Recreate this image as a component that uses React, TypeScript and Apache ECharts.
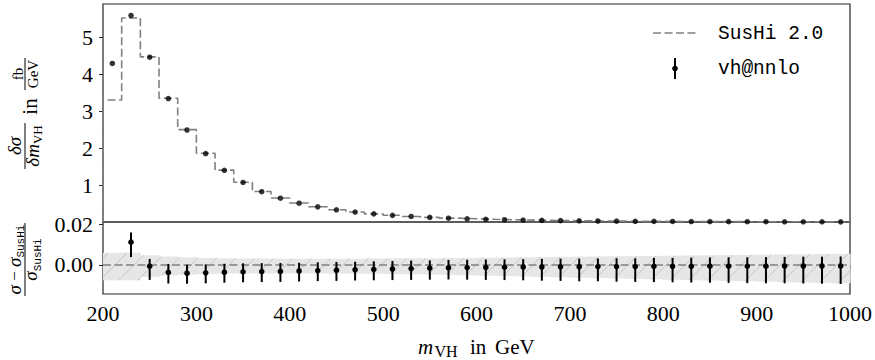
import React, { useEffect, useRef } from "react";
import * as echarts from "echarts";

// ---------- data ----------
const binEdges = [200, 220, 240, 260, 280, 300, 320, 340, 360, 380, 400, 420, 440, 460, 480, 500, 520, 540, 560, 580, 600, 620, 640, 660, 680, 700, 720, 740, 760, 780, 800, 820, 840, 860, 880, 900, 920, 940, 960, 980, 1000];
const binCenters = [210, 230, 250, 270, 290, 310, 330, 350, 370, 390, 410, 430, 450, 470, 490, 510, 530, 550, 570, 590, 610, 630, 650, 670, 690, 710, 730, 750, 770, 790, 810, 830, 850, 870, 890, 910, 930, 950, 970, 990];
const sushiValues = [3.30, 5.52, 4.47, 3.35, 2.50, 1.86, 1.405, 1.075, 0.825, 0.648, 0.513, 0.412, 0.332, 0.271, 0.221, 0.181, 0.150, 0.125, 0.104, 0.087, 0.073, 0.061, 0.052, 0.044, 0.037, 0.032, 0.027, 0.023, 0.020, 0.017, 0.015, 0.013, 0.011, 0.0095, 0.0082, 0.0071, 0.0062, 0.0054, 0.0047, 0.0041];
const vhValues = [4.29, 5.59, 4.46, 3.34, 2.49, 1.85, 1.40, 1.07, 0.82, 0.645, 0.51, 0.41, 0.33, 0.27, 0.22, 0.18, 0.15, 0.125, 0.104, 0.087, 0.073, 0.061, 0.052, 0.044, 0.037, 0.032, 0.027, 0.023, 0.020, 0.017, 0.015, 0.013, 0.011, 0.0095, 0.0082, 0.0071, 0.0062, 0.0054, 0.0047, 0.0041];

const ratioX = [230, 250, 270, 290, 310, 330, 350, 370, 390, 410, 430, 450, 470, 490, 510, 530, 550, 570, 590, 610, 630, 650, 670, 690, 710, 730, 750, 770, 790, 810, 830, 850, 870, 890, 910, 930, 950, 970, 990];
const ratioValues = [0.0113, -0.0006, -0.0037, -0.0041, -0.0039, -0.0036, -0.0034, -0.0033, -0.0032, -0.0030, -0.0028, -0.0026, -0.0024, -0.0022, -0.0020, -0.0018, -0.0016, -0.0014, -0.0013, -0.0012, -0.0011, -0.0010, -0.0010, -0.0009, -0.0009, -0.0008, -0.0008, -0.0008, -0.0007, -0.0007, -0.0007, -0.0006, -0.0006, -0.0006, -0.0006, -0.0005, -0.0005, -0.0005, -0.0005];
const ratioErrUp = [0.0048, 0.0036, 0.0042, 0.0042, 0.0042, 0.0042, 0.0042, 0.0042, 0.0042, 0.0041, 0.0041, 0.0041, 0.0040, 0.0040, 0.0040, 0.0040, 0.0039, 0.0039, 0.0039, 0.0039, 0.0039, 0.0039, 0.0040, 0.0040, 0.0040, 0.0040, 0.0041, 0.0041, 0.0042, 0.0042, 0.0043, 0.0043, 0.0044, 0.0044, 0.0045, 0.0045, 0.0046, 0.0046, 0.0047];
const ratioErrDown = [0.0074, 0.0068, 0.0055, 0.0052, 0.0052, 0.0052, 0.0052, 0.0052, 0.0052, 0.0052, 0.0052, 0.0053, 0.0053, 0.0054, 0.0055, 0.0056, 0.0057, 0.0058, 0.0060, 0.0062, 0.0064, 0.0066, 0.0068, 0.0070, 0.0072, 0.0073, 0.0075, 0.0076, 0.0078, 0.0079, 0.0080, 0.0082, 0.0083, 0.0084, 0.0085, 0.0086, 0.0087, 0.0088, 0.0089];

const bandUp = [0.0060, 0.0060, 0.0048, 0.0042, 0.0038, 0.0035, 0.0033, 0.0032, 0.0032, 0.0031, 0.0031, 0.0031, 0.0031, 0.0031, 0.0032, 0.0032, 0.0033, 0.0033, 0.0034, 0.0035, 0.0036, 0.0037, 0.0038, 0.0039, 0.0040, 0.0041, 0.0042, 0.0043, 0.0044, 0.0045, 0.0046, 0.0047, 0.0048, 0.0049, 0.0050, 0.0051, 0.0052, 0.0053, 0.0054, 0.0055];
const bandDown = [0.0076, 0.0076, 0.0060, 0.0052, 0.0048, 0.0045, 0.0043, 0.0042, 0.0042, 0.0042, 0.0042, 0.0042, 0.0043, 0.0043, 0.0044, 0.0045, 0.0046, 0.0047, 0.0049, 0.0051, 0.0053, 0.0055, 0.0057, 0.0059, 0.0061, 0.0063, 0.0065, 0.0067, 0.0069, 0.0071, 0.0073, 0.0075, 0.0077, 0.0079, 0.0081, 0.0083, 0.0085, 0.0087, 0.0089, 0.0091];

const xTicks = [200, 300, 400, 500, 600, 700, 800, 900, 1000];
const topYTicks = [1, 2, 3, 4, 5];
const bottomYTicks = [0, 0.02];

const legendNames = ["SusHi 2.0", "vh@nnlo"];

// ---------- styles ----------
const SERIF_NAME = "Liberation Serif";
const MONO_NAME = "Liberation Mono";
const GRAY = "#808080";
const FRAME = "#262626";
const DASH = [8, 3.5];

type Piece = { t: string; style?: string; size: number; mono?: boolean; base: number };

let measureCtx: CanvasRenderingContext2D | null = null;
function fontOf(p: Piece) {
  return `${p.style || "normal"} ${p.size}px ${p.mono ? MONO_NAME : SERIF_NAME}`;
}
function tw(p: Piece) {
  if (!measureCtx) measureCtx = document.createElement("canvas").getContext("2d");
  if (!measureCtx) return p.t.length * p.size * 0.5;
  measureCtx.font = fontOf(p);
  return measureCtx.measureText(p.t).width;
}
function textEl(p: Piece, x: number) {
  const k = p.mono ? 0.2665 : 0.3375;
  return {
    type: "text",
    x,
    y: p.base - k * p.size,
    silent: true,
    style: {
      text: p.t,
      fontSize: p.size,
      fontFamily: p.mono ? MONO_NAME : SERIF_NAME,
      fontStyle: p.style || "normal",
      fill: "#000",
      align: "left",
      verticalAlign: "middle",
      textAlign: "left",
      textVerticalAlign: "middle",
    },
  };
}
function rowCentered(pieces: Piece[], cx: number) {
  const ws = pieces.map(tw);
  const total = ws.reduce((a, b) => a + b, 0);
  let x = cx - total / 2;
  const out: any[] = [];
  pieces.forEach((p, i) => {
    out.push(textEl(p, x));
    x += ws[i];
  });
  return out;
}
function barEl(x1: number, x2: number) {
  return { type: "line", silent: true, shape: { x1, y1: 0, x2, y2: 0 }, style: { stroke: "#000", lineWidth: 1 } };
}

export default function App() {
  const ref = useRef<HTMLDivElement>(null);

  useEffect(() => {
    if (!ref.current) return;
    const chart = echarts.init(ref.current, undefined, { renderer: "svg" });

    // step outline of SusHi histogram
    const stepData: number[][] = [[binEdges[0], 0]];
    sushiValues.forEach((v, i) => {
      stepData.push([binEdges[i], v]);
      stepData.push([binEdges[i + 1], v]);
    });

    const scatterData = binCenters.map((x, i) => [x, vhValues[i]]);
    const bandData = bandUp.map((u, i) => [binEdges[i], binEdges[i + 1], u, bandDown[i]]);
    const errData = ratioX.map((x, i) => [x, ratioValues[i], ratioErrUp[i], ratioErrDown[i]]);

    const labelStyle = { fontSize: 22, fontFamily: SERIF_NAME, color: "#000" };

    // titles
    const topTitle = {
      type: "group",
      x: 25,
      y: 113,
      rotation: Math.PI / 2,
      children: [
        barEl(-56, -10),
        ...rowCentered([{ t: "δσ", style: "italic", size: 19, base: -4 }], -33),
        ...rowCentered(
          [
            { t: "δm", style: "italic", size: 19, base: 14 },
            { t: "VH", size: 13, base: 17 },
          ],
          -33
        ),
        ...rowCentered([{ t: "in", size: 21, base: 12 }], 6.5),
        barEl(23, 55),
        ...rowCentered([{ t: "fb", size: 15, base: -2 }], 39),
        ...rowCentered([{ t: "GeV", size: 15, base: 13 }], 39),
      ],
    };
    const bottomTitle = {
      type: "group",
      x: 25,
      y: 259.5,
      rotation: Math.PI / 2,
      children: [
        barEl(-36.5, 36.5),
        ...rowCentered(
          [
            { t: "σ", style: "italic", size: 19, base: -4.5 },
            { t: " − ", size: 17, base: -4.5 },
            { t: "σ", style: "italic", size: 19, base: -4.5 },
            { t: "SusHi", size: 11, mono: true, base: -1.5 },
          ],
          0
        ),
        ...rowCentered(
          [
            { t: "σ", style: "italic", size: 19, base: 12 },
            { t: "SusHi", size: 11, mono: true, base: 15.5 },
          ],
          0
        ),
      ],
    };
    const xTitle = [
      textEl({ t: "m", style: "italic", size: 21, base: 354 }, 418),
      textEl({ t: "VH", size: 16, base: 356.5 }, 434.5),
      textEl({ t: "in", size: 21, base: 354 }, 470),
      textEl({ t: "GeV", size: 21, base: 354 }, 495),
    ];
    const legend = [
      { type: "line", silent: true, shape: { x1: 653, y1: 33, x2: 698, y2: 33 }, style: { stroke: GRAY, lineWidth: 1.6, lineDash: DASH } },
      textEl({ t: legendNames[0], size: 19.5, mono: true, base: 39 }, 718),
      { type: "line", silent: true, shape: { x1: 675, y1: 58, x2: 675, y2: 79 }, style: { stroke: "#000", lineWidth: 2 } },
      { type: "circle", silent: true, shape: { cx: 675, cy: 68.5, r: 2.8 }, style: { fill: "#000" } },
      textEl({ t: legendNames[1], size: 19.5, mono: true, base: 74 }, 718),
    ];

    const option: any = {
      animation: false,
      textStyle: { fontFamily: SERIF_NAME },
      grid: [
        { left: 103, top: 4, width: 747, height: 218, show: true, borderColor: FRAME, borderWidth: 1.2, backgroundColor: "transparent" },
        { left: 103, top: 222, width: 747, height: 72, show: true, borderColor: FRAME, borderWidth: 1.2, backgroundColor: "transparent" },
      ],
      xAxis: [
        {
          type: "value", gridIndex: 0, min: 200, max: 1000, interval: 100,
          axisLine: { show: false }, axisTick: { show: false }, axisLabel: { show: false }, splitLine: { show: false },
        },
        {
          type: "value", gridIndex: 1, min: 200, max: 1000, interval: 100,
          axisLine: { show: false },
          axisTick: { show: true, inside: false, length: 4, lineStyle: { color: FRAME, width: 1 } },
          axisLabel: { show: true, margin: 8, ...labelStyle, customValues: xTicks, formatter: (v: number) => String(v) },
          splitLine: { show: false },
        },
      ],
      yAxis: [
        {
          type: "value", gridIndex: 0, min: 0, max: 5.9,
          axisLine: { show: false },
          axisTick: { show: true, inside: false, length: 4, lineStyle: { color: FRAME, width: 1 }, customValues: topYTicks },
          axisLabel: { show: true, margin: 10, ...labelStyle, customValues: topYTicks, formatter: (v: number) => String(v) },
          splitLine: { show: false },
        },
        {
          type: "value", gridIndex: 1, min: -0.0144, max: 0.0213,
          axisLine: { show: false },
          axisTick: { show: true, inside: false, length: 4, lineStyle: { color: FRAME, width: 1 }, customValues: bottomYTicks },
          axisLabel: { show: true, margin: 10, ...labelStyle, customValues: bottomYTicks, formatter: (v: number) => v.toFixed(2) },
          splitLine: { show: false },
        },
      ],
      series: [
        {
          name: legendNames[0], type: "line", xAxisIndex: 0, yAxisIndex: 0, data: stepData,
          symbol: "none", silent: true, z: 2,
          lineStyle: { color: GRAY, width: 1.6, type: DASH },
        },
        {
          name: legendNames[1], type: "scatter", xAxisIndex: 0, yAxisIndex: 0, data: scatterData,
          symbol: "circle", symbolSize: 5.5, itemStyle: { color: "#000" }, silent: true, z: 3,
        },
        {
          type: "custom", xAxisIndex: 1, yAxisIndex: 1, data: bandData, silent: true, z: 1,
          encode: { x: [0, 1], y: [2] },
          renderItem: (params: any, api: any) => {
            const x0 = api.value(0), x1 = api.value(1), up = api.value(2), dn = api.value(3);
            const p0 = api.coord([x0, up]);
            const p1 = api.coord([x1, -dn]);
            const X0 = p0[0], X1 = p1[0], Yt = p0[1], Yb = p1[1];
            const children: any[] = [
              { type: "rect", shape: { x: X0, y: Yt, width: X1 - X0 + 0.6, height: Yb - Yt }, style: { fill: "#e6e6e6" } },
            ];
            const S = 19;
            const start = Math.floor((X0 + Yt) / S) * S;
            for (let c = start; c <= X1 + Yb + S; c += S) {
              const lo = Math.max(X0, c - Yb);
              const hi = Math.min(X1, c - Yt);
              if (hi > lo) {
                children.push({ type: "line", shape: { x1: lo, y1: c - lo, x2: hi, y2: c - hi }, style: { stroke: "#c6c6c6", lineWidth: 1 } });
              }
            }
            return { type: "group", children };
          },
        },
        {
          type: "line", xAxisIndex: 1, yAxisIndex: 1,
          data: [[binEdges[0], 0], [binEdges[binEdges.length - 1], 0]],
          symbol: "none", silent: true, z: 2,
          lineStyle: { color: GRAY, width: 1.6, type: DASH },
        },
        {
          type: "custom", xAxisIndex: 1, yAxisIndex: 1, data: errData, silent: true, z: 3,
          encode: { x: [0], y: [1] },
          renderItem: (params: any, api: any) => {
            const x = api.value(0), y = api.value(1), up = api.value(2), dn = api.value(3);
            const pt = api.coord([x, y]);
            const top = api.coord([x, y + up]);
            const bot = api.coord([x, y - dn]);
            return {
              type: "group",
              children: [
                { type: "line", shape: { x1: pt[0], y1: top[1], x2: pt[0], y2: bot[1] }, style: { stroke: "#000", lineWidth: 2 } },
                { type: "circle", shape: { cx: pt[0], cy: pt[1], r: 2.8 }, style: { fill: "#000" } },
              ],
            };
          },
        },
      ],
      graphic: [topTitle, bottomTitle, ...xTitle, ...legend],
    };

    chart.setOption(option);
    return () => chart.dispose();
  }, []);

  return <div ref={ref} style={{ position: "absolute", left: 0, top: 0, width: 875, height: 360, background: "#fff" }} />;
}
